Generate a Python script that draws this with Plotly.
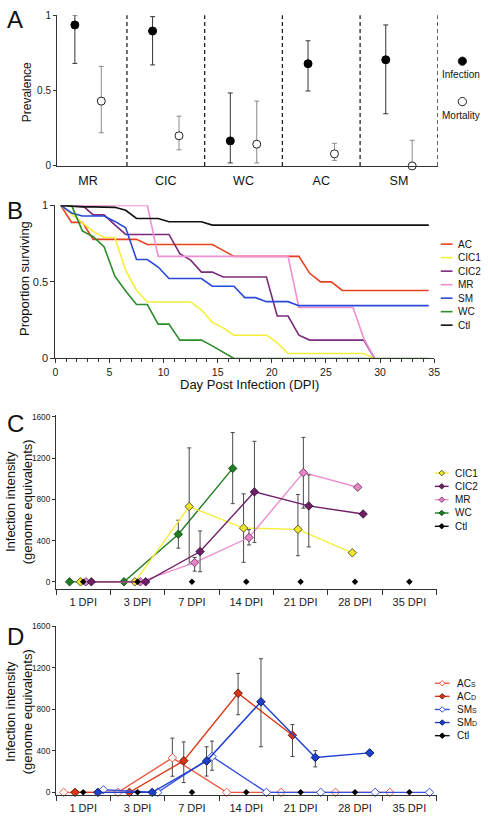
import plotly.graph_objects as go

W, H = 488, 820
FONT = "Liberation Sans, Arial, Helvetica, sans-serif"
AX = "#333333"

# ---------------- Panel A data ----------------
prev_categories = ["MR", "CIC", "WC", "AC", "SM"]
infection = [0.935, 0.895, 0.166, 0.678, 0.704]
infection_low = [0.68, 0.67, 0.02, 0.497, 0.346]
infection_high = [1.0, 0.99, 0.484, 0.83, 0.935]
mortality = [0.43, 0.20, 0.144, 0.08, 0.0]
mortality_low = [0.22, 0.107, 0.02, 0.037, 0.0]
mortality_high = [0.66, 0.33, 0.43, 0.15, 0.17]

# ---------------- Panel B data ----------------
surv_days = [0.5, 1.5, 2.5, 3.5, 4.5, 5.5, 6.5, 7.5, 8.5, 9.5, 10.5, 11.5, 12.5,
             13.5, 14.5, 15.5, 16.5, 17.5, 18.5, 19.5, 20.5, 21.5, 22.5, 23.5,
             24.5, 25.5, 26.5, 27.5, 28.5, 29.5, 30.5, 31.5, 32.5, 33.5, 34.5]
surv_AC = [1.0, .889, .889, .778, .778, .778, .778, .778, .744, .744, .744, .744,
           .744, .744, .744, .706, .667, .667, .667, .667, .667, .667, .667, .556,
           .5, .5, .444, .444, .444, .444, .444, .444, .444, .444, .444]
surv_CIC1 = [1.0, .94, .886, .83, .79, .79, .575, .446, .369, .369, .369, .369,
             .369, .318, .236, .2, .152, .152, .152, .152, .103, .032, .032, .032,
             .032, .032, .032, .032, .032, 0, None, None, None, None, None]
surv_CIC2 = [1.0, 1.0, 1.0, .938, .938, .872, .81, .81, .81, .81, .81, .684, .642,
             .564, .564, .532, .532, .532, .532, .532, .277, .277, .152, .12, .12,
             .12, .12, .12, .12, 0, None, None, None, None, None]
surv_MR = [1.0, 1.0, 1.0, 1.0, 1.0, 1.0, 1.0, 1.0, 1.0, .667, .667, .667, .667,
           .667, .667, .667, .667, .667, .667, .667, .667, .667, .333, .333, .333,
           .333, .333, .333, .13, 0, None, None, None, None, None]
surv_SM = [1.0, .95, .93, .93, .93, .895, .854, .646, .646, .597, .522, .522, .522,
           .522, .472, .472, .472, .397, .397, .371, .371, .371, .345, .345, .345,
           .345, .345, .345, .345, .345, .345, .345, .345, .345, .345]
surv_WC = [1.0, 1.0, .833, .795, .73, .537, .44, .352, .352, .224, .224, .12, .12,
           .12, .082, .04, 0, 0, 0, 0, 0, 0, 0, 0, 0, 0, 0, 0, 0, 0, 0, 0, 0, 0, 0]
surv_Ctl = [1.0, .995, .99, .99, .99, .987, .968, .914, .914, .914, .893, .893,
            .893, .893, .871, .871, .871, .871, .871, .871, .871, .871, .871, .871,
            .871, .871, .871, .871, .871, .871, .871, .871, .871, .871, .871]
surv_names = ["AC", "CIC1", "CIC2", "MR", "SM", "WC", "Ctl"]
surv_colors = ["#e8411e", "#f4f03a", "#7a2b7e", "#f08fd4", "#2a49d8", "#2b8c2b", "#111111"]
surv_values = [surv_AC, surv_CIC1, surv_CIC2, surv_MR, surv_SM, surv_WC, surv_Ctl]

# ---------------- Panel C data ----------------
dpi_labels = ["1 DPI", "3 DPI", "7 DPI", "14 DPI", "21 DPI", "28 DPI", "35 DPI"]
C_names = ["CIC1", "CIC2", "MR", "WC", "Ctl"]
C_CIC1 = [0, 0, 731, 522, 509, 282]
C_CIC1_hi = [None, None, 1300, 854, 848, None]
C_CIC1_lo = [None, None, 168, 190, 253, None]
C_CIC2 = [0, 0, 294, 873, 737, 658]
C_CIC2_hi = [None, None, 494, 1364, 1038, None]
C_CIC2_lo = [None, None, 98, 383, 339, None]
C_MR = [0, 0, 187, 430, 1060, 918]
C_MR_hi = [None, None, 237, 506, 1402, None]
C_MR_lo = [None, None, 104, 358, 715, None]
C_WC = [0, 0, 462, 1101]
C_WC_hi = [None, None, 598, 1449]
C_WC_lo = [None, None, 327, 759]
C_Ctl = [0, 0, 0, 0, 0, 0, 0]

# ---------------- Panel D data ----------------
D_names = ["ACs", "ACd", "SMs", "SMd", "Ctl"]
D_ACs = [0, 0, 332, 0, 0, 0, 0]
D_ACs_hi = [None, None, 522, None, None, None, None]
D_ACs_lo = [None, None, 155, None, None, None, None]
D_ACd = [0, 0, 304, 954, 549]
D_ACd_hi = [None, None, 486, 1145, 653]
D_ACd_lo = [None, None, 94, 747, 345]
D_SMs = [25, 0, 345, 0, 0, 0, 0]
D_SMs_hi = [None, None, 493, None, None, None, None]
D_SMs_lo = [None, None, 213, None, None, None, None]
D_SMd = [0, 0, 301, 872, 336, 380]
D_SMd_hi = [None, None, 439, 1286, 402, None]
D_SMd_lo = [None, None, 157, 439, 245, None]
D_Ctl = [0, 0, 0, 0, 0, 0, 0]


def up(vals, hi):
    return [None if h is None else h - v for v, h in zip(vals, hi)]


def down(vals, lo):
    return [None if l is None else v - l for v, l in zip(vals, lo)]


def fx(x):
    return x / W


def fy(y):
    return 1 - y / H


fig = go.Figure()

# ---------------- Panel A traces ----------------
off = 0.17
fig.add_trace(go.Scatter(
    x=[i - off for i in range(len(prev_categories))], y=infection, mode="markers",
    marker=dict(color="black", size=8, line=dict(color="black", width=1)),
    error_y=dict(type="data", symmetric=False, array=up(infection, infection_high),
                 arrayminus=down(infection, infection_low), color="#333333",
                 thickness=1, width=2.5),
    xaxis="x", yaxis="y", showlegend=False, cliponaxis=False, name="Infection"))
fig.add_trace(go.Scatter(
    x=[i + off for i in range(len(prev_categories))], y=mortality, mode="markers",
    marker=dict(color="white", size=8, line=dict(color="#222222", width=1)),
    error_y=dict(type="data", symmetric=False, array=up(mortality, mortality_high),
                 arrayminus=down(mortality, mortality_low), color="#8a8a8a",
                 thickness=1, width=2.5),
    xaxis="x", yaxis="y", showlegend=False, cliponaxis=False, name="Mortality"))

# ---------------- Panel B traces ----------------
for name, col, vals in zip(surv_names, surv_colors, surv_values):
    fig.add_trace(go.Scatter(x=surv_days, y=vals, mode="lines", name=name,
                             line=dict(color=col, width=1.6), connectgaps=False,
                             xaxis="x2", yaxis="y2", showlegend=False))

# ---------------- Panel C traces ----------------
C_series = [
    ("WC", C_WC, C_WC_hi, C_WC_lo, -0.25, "#1f7d22", "#1f7d22", "#0d3d0d", 6.5),
    ("CIC1", C_CIC1, C_CIC1_hi, C_CIC1_lo, -0.05, "#f3ee3a", "#f0e62a", "#3a3a1a", 6.5),
    ("MR", C_MR, C_MR_hi, C_MR_lo, 0.05, "#ee8fd0", "#e884c8", "#5a2a4a", 6.5),
    ("CIC2", C_CIC2, C_CIC2_hi, C_CIC2_lo, 0.15, "#6e1f68", "#6e1f68", "#2a0a28", 6.5),
]
for name, vals, hi, lo, o, lc, fc, oc, sz in C_series:
    fig.add_trace(go.Scatter(
        x=[i + o for i in range(len(vals))], y=vals, mode="lines+markers", name=name,
        line=dict(color=lc, width=1.4),
        marker=dict(symbol="diamond", size=sz, color=fc, line=dict(color=oc, width=0.8)),
        error_y=dict(type="data", symmetric=False, array=up(vals, hi),
                     arrayminus=down(vals, lo), color="#4a4a4a", thickness=1, width=2),
        xaxis="x3", yaxis="y3", showlegend=False, cliponaxis=False))
fig.add_trace(go.Scatter(
    x=list(range(len(C_Ctl))), y=C_Ctl, mode="markers", name="Ctl",
    marker=dict(symbol="diamond", size=5, color="black"),
    xaxis="x3", yaxis="y3", showlegend=False, cliponaxis=False))

# ---------------- Panel D traces ----------------
D_series = [
    ("ACs", D_ACs, D_ACs_hi, D_ACs_lo, -0.36, "#ec5a44", "white", "#ec5a44", 6.5),
    ("ACd", D_ACd, D_ACd_hi, D_ACd_lo, -0.15, "#dd3a16", "#d9361a", "#6a1a0a", 6.5),
    ("SMs", D_SMs, D_SMs_hi, D_SMs_lo, 0.37, "#3550e0", "white", "#3550e0", 6.5),
    ("SMd", D_SMd, D_SMd_hi, D_SMd_lo, 0.27, "#1f3fcf", "#1f3fcf", "#0a1a5a", 6.5),
]
for name, vals, hi, lo, o, lc, fc, oc, sz in D_series:
    fig.add_trace(go.Scatter(
        x=[i + o for i in range(len(vals))], y=vals, mode="lines+markers", name=name,
        line=dict(color=lc, width=1.4),
        marker=dict(symbol="diamond", size=sz, color=fc, line=dict(color=oc, width=1)),
        error_y=dict(type="data", symmetric=False, array=up(vals, hi),
                     arrayminus=down(vals, lo), color="#4a4a4a", thickness=1, width=2),
        xaxis="x4", yaxis="y4", showlegend=False, cliponaxis=False))
fig.add_trace(go.Scatter(
    x=list(range(len(D_Ctl))), y=D_Ctl, mode="markers", name="Ctl",
    marker=dict(symbol="diamond", size=5, color="black"),
    xaxis="x4", yaxis="y4", showlegend=False, cliponaxis=False))

# ---------------- axes ----------------
base = dict(showline=True, linecolor=AX, linewidth=1, showgrid=False, zeroline=False,
            tickcolor=AX, tickfont=dict(family=FONT, color="#222222"))

# Panel A
fig.update_layout(
    xaxis=dict(base, domain=[fx(55), fx(443)], range=[-0.4, 4.5], anchor="y",
               tickmode="array", tickvals=list(range(len(prev_categories))),
               ticktext=prev_categories, ticks="outside", ticklen=3,
               tickcolor="rgba(0,0,0,0)", tickfont=dict(family=FONT, size=12.5, color="#111")),
    yaxis=dict(base, domain=[fy(162.3), fy(9.3)], range=[0, 1], anchor="x",
               tickmode="array", tickvals=[0, 0.5, 1], ticktext=["0", "0.5", "1"],
               ticks="outside", ticklen=3, tickfont=dict(family=FONT, size=10, color="#222")),
)
# Panel B
fig.update_layout(
    xaxis2=dict(base, domain=[fx(53.3), fx(439.3)], range=[0, 35], anchor="y2",
                tickmode="linear", tick0=0, dtick=5, ticks="outside", ticklen=4,
                minor=dict(ticks="outside", ticklen=3, tick0=0, dtick=1, tickcolor=AX),
                tickfont=dict(family=FONT, size=10.5, color="#222")),
    yaxis2=dict(base, domain=[fy(357.7), fy(202.3)], range=[0, 1], anchor="x2",
                tickmode="array", tickvals=[0, 0.5, 1], ticktext=["0", "0.5", "1"],
                ticks="outside", ticklen=4, tickfont=dict(family=FONT, size=11, color="#222")),
)
half_ticks = [i - 0.5 for i in range(len(dpi_labels) + 1)]
for xa, ya, ydom, yr in [("xaxis3", "yaxis3", [fy(591.7), fy(415)], [-70, 1620]),
                         ("xaxis4", "yaxis4", [fy(801), fy(629.3)], [-28, 1600])]:
    fig.update_layout({
        xa: dict(base, domain=[fx(54), fx(441.7)], range=[-0.5, 6.5],
                 anchor=ya.replace("axis", ""),
                 tickmode="array", tickvals=list(range(len(dpi_labels))), ticktext=dpi_labels,
                 ticks="outside", ticklen=3, tickcolor="rgba(0,0,0,0)",
                 minor=dict(tickmode="array", tickvals=half_ticks, ticks="outside",
                            ticklen=5, tickcolor=AX),
                 tickfont=dict(family=FONT, size=11, color="#222")),
        ya: dict(base, domain=ydom, range=yr, anchor=xa.replace("axis", ""),
                 tickmode="array", tickvals=[0, 400, 800, 1200, 1600],
                 ticks="outside", ticklen=3, tickfont=dict(family=FONT, size=8.3, color="#222")),
    })

# ---------------- shapes (dashed separators, legends) ----------------
shapes = []
for i in range(len(prev_categories)):
    shapes.append(dict(type="line", xref="x", yref="y domain", x0=i + 0.5, x1=i + 0.5,
                       y0=0, y1=1, line=dict(color="#222222", width=1.3, dash="4px,3px")))

annotations = []


def text(x, y, s, size, anchor="left", angle=0, color="#111111"):
    annotations.append(dict(x=fx(x), y=fy(y), xref="paper", yref="paper", text=s,
                            showarrow=False, xanchor=anchor, yanchor="middle",
                            textangle=angle, font=dict(family=FONT, size=size, color=color)))


# Panel A legend
for cy, fill, label, ty in [(56, "black", "Infection", 70), (97, "white", "Mortality", 111)]:
    r = 4.2
    shapes.append(dict(type="circle", xref="paper", yref="paper",
                       x0=fx(468 - r), x1=fx(468 + r), y0=fy(cy + r), y1=fy(cy - r),
                       fillcolor=fill, line=dict(color="#222222", width=1)))
    text(467, ty, label, 10, anchor="center")

# Panel B legend
for k, (name, col) in enumerate(zip(surv_names, surv_colors)):
    y = 241.7 + 13.7 * k
    shapes.append(dict(type="line", xref="paper", yref="paper", x0=fx(446), x1=fx(458),
                       y0=fy(y), y1=fy(y), line=dict(color=col, width=1.6)))
    text(462, y, name, 10)


def diamond(cx, cy, r, fill, outline, lw=0.8):
    path = "M{},{} L{},{} L{},{} L{},{} Z".format(
        fx(cx - r), fy(cy), fx(cx), fy(cy - r), fx(cx + r), fy(cy), fx(cx), fy(cy + r))
    shapes.append(dict(type="path", xref="paper", yref="paper", path=path,
                       fillcolor=fill, line=dict(color=outline, width=lw)))


# Panel C legend
C_leg = [("CIC1", "#f3ee3a", "#f0e62a", "#3a3a1a"), ("CIC2", "#6e1f68", "#6e1f68", "#2a0a28"),
         ("MR", "#ee8fd0", "#e884c8", "#5a2a4a"), ("WC", "#1f7d22", "#1f7d22", "#0d3d0d"),
         ("Ctl", "#111111", "#000000", "#000000")]
for k, (name, lc, fc, oc) in enumerate(C_leg):
    y = 474 + 13.5 * k
    shapes.append(dict(type="line", xref="paper", yref="paper", x0=fx(440), x1=fx(454),
                       y0=fy(y), y1=fy(y), line=dict(color=lc, width=1.4)))
    diamond(447, y, 2.8, fc, oc)
    text(458, y, name, 10)

# Panel D legend
small = "<span style='font-size:7px'>{}</span>"
D_leg = [("AC" + small.format("S"), "#ec5a44", "white", "#ec5a44"),
         ("AC" + small.format("D"), "#dd3a16", "#d9361a", "#6a1a0a"),
         ("SM" + small.format("S"), "#3550e0", "white", "#3550e0"),
         ("SM" + small.format("D"), "#1f3fcf", "#1f3fcf", "#0a1a5a"),
         ("Ctl", "#111111", "#000000", "#000000")]
for k, (name, lc, fc, oc) in enumerate(D_leg):
    y = 687.3 + 13.3 * k
    shapes.append(dict(type="line", xref="paper", yref="paper", x0=fx(440), x1=fx(455),
                       y0=fy(y), y1=fy(y), line=dict(color=lc, width=1.4)))
    diamond(447.5, y, 2.8, fc, oc, 1)
    text(460, y, name, 10)

# Axis titles and panel letters
text(24, 88, "Prevalence", 12, anchor="center", angle=-90)
text(22.5, 277, "Proportion surviving", 13, anchor="center", angle=-90)
text(251, 384, "Day Post Infection (DPI)", 13, anchor="center")
text(16, 503, "Infection intensity<br>(genome equivalents)", 13, anchor="center", angle=-90)
text(16, 716, "Infection intensity<br>(genome equivalents)", 13, anchor="center", angle=-90)
for letter, y in [("A", 14), ("B", 208), ("C", 424), ("D", 640)]:
    text(2, y, letter, 24)

fig.update_layout(
    width=W, height=H, margin=dict(l=0, r=0, t=0, b=0),
    paper_bgcolor="white", plot_bgcolor="white", showlegend=False,
    shapes=shapes, annotations=annotations,
    font=dict(family=FONT, color="#111111"),
)

# remove the default 8px page margin so the 488x820 figure fills the window exactly
fig.write_html("out.html", config={"displayModeBar": False},
               post_script="document.body.style.margin='0px';"
                           "document.documentElement.style.overflow='hidden';")
